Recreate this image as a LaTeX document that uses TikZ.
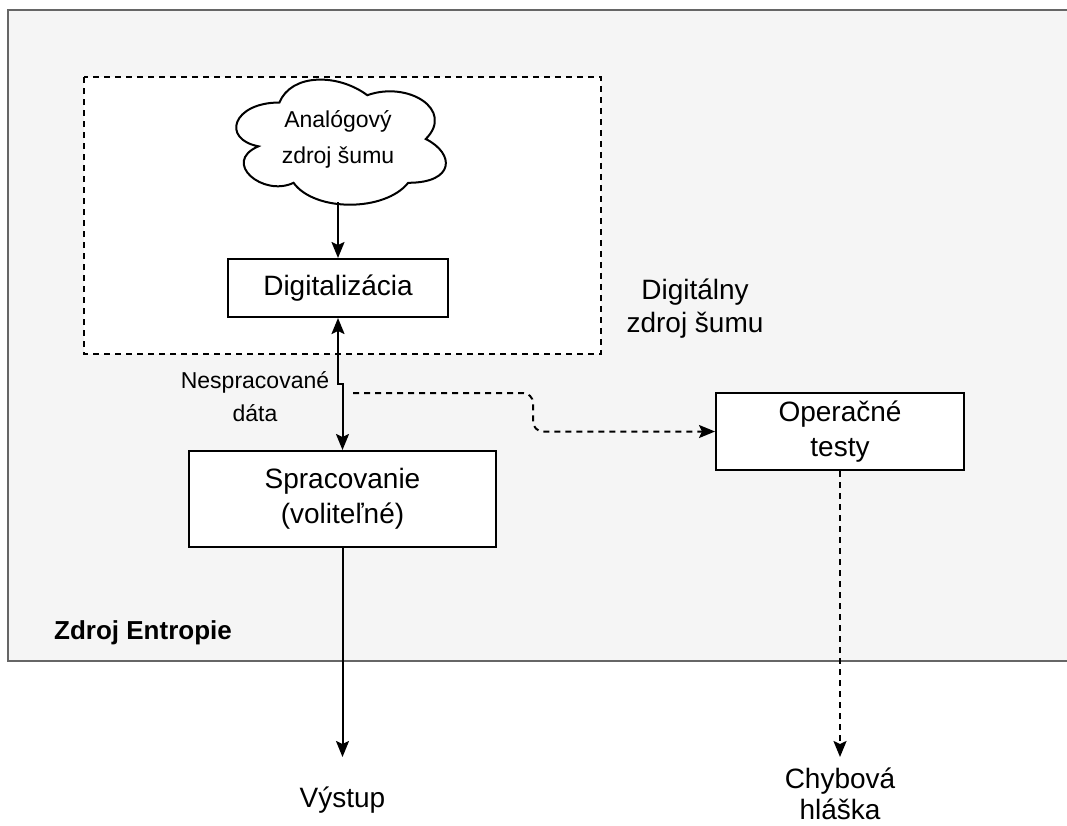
\documentclass[tikz,border=0pt]{standalone}
\usepackage{fontspec}
\setmainfont{Liberation Sans}
\usetikzlibrary{arrows.meta}
\definecolor{outerfill}{HTML}{F5F5F5}
\definecolor{outerline}{HTML}{666666}
\begin{document}
\begin{tikzpicture}[x=1pt,y=-1pt,
  stepbox/.style={draw=black, line width=2pt, fill=white, inner sep=0pt, align=center, font=\fontsize{28}{35}\selectfont},
  lbl/.style={align=center, inner sep=0pt, font=\fontsize{28}{33}\selectfont},
  smalllbl/.style={align=center, inner sep=0pt, font=\fontsize{23}{34}\selectfont},
  tip/.tip={Stealth[length=16pt,width=13pt,inset=3pt]},
  conn/.style={line width=2pt, -tip},
  dashconn/.style={conn, dash pattern=on 6pt off 5pt},
  dashbox/.style={draw=black, line width=1.8pt, fill=white, dash pattern=on 6pt off 5pt}]
\useasboundingbox (0,0) rectangle (1067,825);
\fill[white] (0,0) rectangle (1067,825);
% outer entropy source box
\draw[fill=outerfill, draw=outerline, line width=2pt] (8,10) rectangle (1080,661);
% digital noise source dashed box
\draw[dashbox] (84,77) rectangle (601,354);
% cloud
\begin{scope}[shift={(221,66)}, x=234pt, y=-146pt]
\draw[line width=2pt, fill=white] (0.25,0.25) .. controls (0.05,0.25) and (0,0.5) .. (0.16,0.55)
  .. controls (0,0.66) and (0.18,0.9) .. (0.31,0.8)
  .. controls (0.4,1) and (0.7,1) .. (0.8,0.8)
  .. controls (1,0.8) and (1,0.6) .. (0.875,0.5)
  .. controls (1,0.3) and (0.8,0.1) .. (0.625,0.2)
  .. controls (0.5,0.05) and (0.3,0.05) .. (0.25,0.25) -- cycle;
\end{scope}
\node[smalllbl, font=\fontsize{23}{36}\selectfont] (cloud) at (338,139) {Analógový\\zdroj šumu};
\coordinate (cloudb) at (338,202);
% boxes
\node[stepbox, minimum width=220pt, minimum height=58pt] (dig) at (338,288) {Digitalizácia};
\node[stepbox, minimum width=307pt, minimum height=96pt] (spr) at (342.5,499) {Spracovanie\\(voliteľné)};
\node[stepbox, minimum width=248pt, minimum height=77pt] (op) at (840,431.5) {Operačné\\testy};
% labels
\node[lbl] (dzs) at (695,309) {Digitálny\\zdroj šumu};
\node[smalllbl, font=\fontsize{23}{33}\selectfont] (nd) at (255,397) {Nespracované\\dáta};
\node[anchor=west, inner sep=0pt, font=\bfseries\fontsize{26}{30}\selectfont] (ze) at (54,633) {Zdroj Entropie};
\node[lbl] (vys) at (342.5,800) {Výstup};
\node[lbl, font=\fontsize{28}{31}\selectfont] (chyb) at (840,794) {Chybová\\hláška};
\coordinate (vysin) at (342.5,757);
\coordinate (chybin) at (840,757);
\coordinate (tap) at (353,393);
% connectors
\draw[conn] (cloudb) -- (dig.north);
\draw[line width=2pt, tip-tip] (dig.south) -- ++(0,66) -| (spr.north);
\draw[dashconn, rounded corners=10pt] (tap) -- (533,393) -- (533,431.5) -- (op.west);
\draw[conn] (spr.south) -- (vysin);
\draw[dashconn] (op.south) -- (chybin);
\end{tikzpicture}
\end{document}
